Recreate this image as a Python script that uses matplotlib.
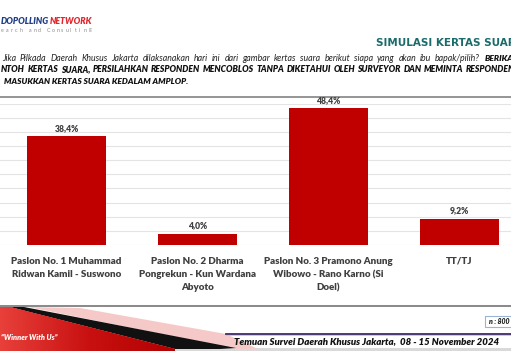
import numpy as np
import matplotlib
matplotlib.use("Agg")
import matplotlib.pyplot as plt
from matplotlib.patches import Polygon, Rectangle
from matplotlib.colors import LinearSegmentedColormap

# data
categories = ["Paslon No. 1 Muhammad\nRidwan Kamil - Suswono",
              "Paslon No. 2 Dharma\nPongrekun - Kun Wardana\nAbyoto",
              "Paslon No. 3 Pramono Anung\nWibowo - Rano Karno (Si\nDoel)",
              "TT/TJ"]
values = [38.4, 4.0, 48.4, 9.2]
value_labels = ["38,4%", "4,0%", "48,4%", "9,2%"]

line1 = "Jika Pilkada Daerah Khusus Jakarta dilaksanakan hari ini dari gambar kertas suara berikut siapa yang akan ibu bapak/pilih?"
line2 = "NTOH KERTAS SUARA, PERSILAHKAN RESPONDEN MENCOBLOS TANPA DIKETAHUI OLEH SURVEYOR DAN MEMINTA RESPONDEN"
line3 = "MASUKKAN KERTAS SUARA KEDALAM AMPLOP."

W, H = 511, 351
fig = plt.figure(figsize=(W / 100, H / 100), dpi=100)
fig.patch.set_facecolor("white")

# background / decoration layer in pixel coords (y down)
bg = fig.add_axes([0, 0, 1, 1])
bg.set_xlim(0, W)
bg.set_ylim(H, 0)
bg.axis("off")

FONT = "Lato"
renderer = fig.canvas.get_renderer()


def justify(text, y, x0, x_last, **kw):
    # spread the words so the first starts at x0 and the last starts at x_last
    words = text.split()
    ts = [bg.text(0, y, w, ha="left", va="center", **kw) for w in words]
    widths = [t.get_window_extent(renderer).width for t in ts]
    gap = (x_last - x0 - sum(widths[:-1])) / (len(words) - 1)
    xx = x0
    for t, wd in zip(ts, widths):
        t.set_x(xx)
        xx += wd + gap


# logo
bg.text(49, 22, "DOPOLLING", ha="right", va="center", fontsize=6.3, fontweight="heavy",
        style="italic", color="#203f86", family=FONT)
bg.text(50, 22, "NETWORK", ha="left", va="center", fontsize=6.3, fontweight="heavy",
        style="italic", color="#e3262d", family=FONT)
sub = "earch and Consulting"
for i, ch in enumerate(sub):
    bg.text(1 + i * 4.6, 30, ch, ha="left", va="center", fontsize=3.8, color="#8a8a8a", family=FONT)

# title
bg.text(376, 43, "SIMULASI KERTAS SUARA", ha="left", va="center", fontsize=7.5,
        fontweight="bold", color="#1b6b6b", family="DejaVu Sans")

# question
justify(line1, 58.5, 2, 435, fontsize=6.3, style="italic", color="#222222", family=FONT)
bg.text(485, 58.5, "BERIKAN", ha="left", va="center", fontsize=6.1, style="italic",
        fontweight="heavy", color="#111111", family=FONT)
justify(line2, 70, 1, 466, fontsize=6.2, style="italic", fontweight="heavy",
        color="#111111", family=FONT)
bg.text(4, 81, line3, ha="left", va="center", fontsize=6.0,
        style="italic", fontweight="heavy", color="#111111", family=FONT)

# separators
bg.plot([0, W], [96.5, 96.5], color="#8c8c8c", lw=1.3)
bg.plot([0, W], [306, 306], color="#7f7f7f", lw=1.3)

# footer
bg.add_patch(Rectangle((0, 347.5), W, 4, color="#d9d9d9", lw=0))
pink = Polygon([(28, 307), (80, 308), (226, 334), (258, 349), (236, 349)], closed=True,
               color="#f6c9c9", lw=0)
bg.add_patch(pink)
black = Polygon([(10, 307), (24, 307), (236, 348), (220, 349), (175, 349)], closed=True,
                color="#111111", lw=0)
bg.add_patch(black)
red = Polygon([(0, 307), (10, 307), (175, 349), (175, 351), (0, 351)], closed=True, lw=0,
              color="#d01818")
bg.add_patch(red)
grad = np.linspace(0, 1, 256).reshape(1, -1)
cmap = LinearSegmentedColormap.from_list("r", ["#e8403a", "#c81010", "#b00000"])
im = bg.imshow(grad, extent=(0, 180, 351, 306), cmap=cmap, aspect="auto", zorder=2)
im.set_clip_path(red)
bg.text(1, 337.5, "\u201cWinner With Us\u201d", ha="left", va="center", fontsize=5.3,
        style="italic", fontweight="heavy", color="white", family=FONT, zorder=3)

bg.plot([226, W], [334, 334], color="#3b2a66", lw=1.3)
bg.plot([226, W], [335.3, 335.3], color="#f0b0b0", lw=0.6)
bg.text(234, 341.5, "Temuan Survei Daerah Khusus Jakarta,  08 - 15 November 2024", ha="left",
        va="center", fontsize=6.9, style="italic", fontweight="heavy", color="#111111", family=FONT)

bg.text(489, 321.5, "n : 800", ha="left", va="center", fontsize=5, style="italic",
        fontweight="heavy", color="#222222", family=FONT)
bg.add_patch(Rectangle((485, 316), 40, 11, fill=False, edgecolor="#9db3d6", lw=0.8))

# chart
base_y, px_per_unit = 245, 2.83
top_val = 50
ax = fig.add_axes([0, (H - base_y) / H, 1, top_val * px_per_unit / H])
ax.set_facecolor("none")
step = 131.0
c0 = 66.5
x = np.arange(len(values))
ax.set_xlim(-c0 / step, (W - c0) / step)
ax.set_ylim(0, top_val)
ax.bar(x, values, width=79 / step, color="#c00000", zorder=2)
for xi, v, lab in zip(x, values, value_labels):
    ax.annotate(lab, (xi, v), xytext=(0, 2.5), textcoords="offset points", ha="center",
                va="bottom", fontsize=6.2, fontweight="heavy", color="#404040", family=FONT,
                annotation_clip=False)
ax.set_yticks(np.arange(0, top_val + 1, 5))
ax.set_yticklabels([])
ax.grid(axis="y", color="#e4e4e4", lw=0.8, zorder=0)
ax.set_xticks(x)
ax.set_xticklabels(categories, fontsize=7.0, fontweight="heavy", color="#404040",
                   family=FONT, linespacing=1.62)
ax.tick_params(length=0, pad=8.5)
for s in ax.spines.values():
    s.set_visible(False)

fig.savefig("out.png", dpi=100)
